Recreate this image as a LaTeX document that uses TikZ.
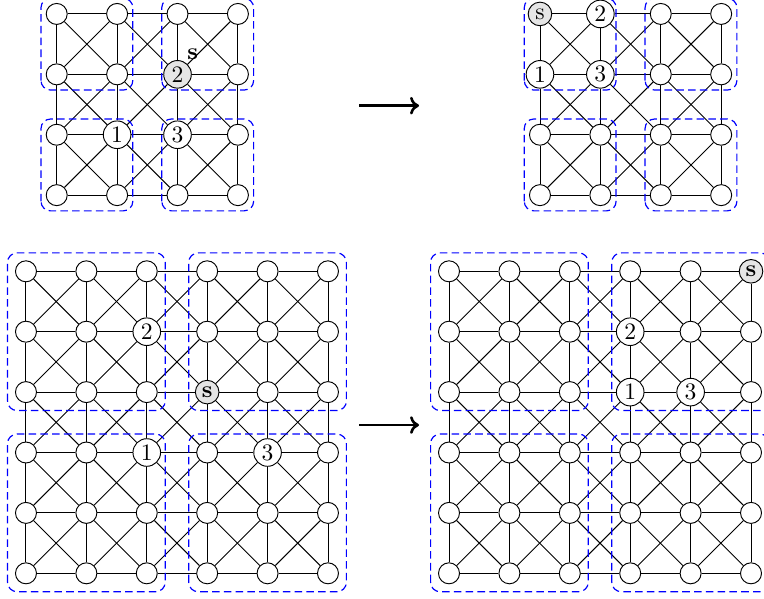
\documentclass[tikz,border=0pt]{standalone}
\usepackage{amsmath}
\usetikzlibrary{positioning}
\usetikzlibrary{arrows.meta}

\begin{document}
\begin{tikzpicture}[x=0.9cm, y=0.9cm,
        vtx/.style={circle, draw=black, fill=white, inner sep=0pt, minimum size=8.9pt},
        num/.style={minimum size=11.7pt, label=center:{#1}},
        src/.style={fill=gray!20},
        link/.style={draw=black},
        part/.style={draw=blue, line width=0.5pt, dash pattern=on 3.2pt off 1.8pt, rounded corners=4pt},
        % numbered vertices, before and after
        A-2-2/.style={src, num=2, label={[font=\bfseries, inner sep=1pt]60:s}},
        A-1-1/.style={num=1},
        A-2-1/.style={num=3},
        B-0-3/.style={src, num=s, minimum size=10pt},
        B-1-3/.style={num=2},
        B-0-2/.style={num=1},
        B-1-2/.style={num=3},
        C-3-3/.style={src, num=\textbf{s}, minimum size=10pt},
        C-2-4/.style={num=2},
        C-2-2/.style={num=1},
        C-4-2/.style={num=3},
        D-5-5/.style={src, num=\textbf{s}, minimum size=10pt},
        D-3-4/.style={num=2},
        D-3-3/.style={num=1},
        D-4-3/.style={num=3}]

        \useasboundingbox (0,0) rectangle (12.649,9.901);

        \foreach \p/\nn/\m/\x/\y/\pad in {A/3/2/0.939/6.67/0.26, B/3/2/8.94/6.67/0.26, C/5/3/0.43/0.409/0.305, D/5/3/7.434/0.409/0.305} {
            % vertices
            \foreach \i in {0,...,\nn}
                \foreach \j in {0,...,\nn}
                    \node[vtx, \p-\i-\j/.try] (\p-\i-\j) at (\x+\i,\y+\j) {};
            % king moves
            \foreach \i in {0,...,\nn}
                \foreach \j in {0,...,\nn} {
                    \pgfmathtruncatemacro\ii{\i+1}
                    \pgfmathtruncatemacro\jj{\j+1}
                    \ifnum\i<\nn\relax \draw[link] (\p-\i-\j) -- (\p-\ii-\j); \fi
                    \ifnum\j<\nn\relax \draw[link] (\p-\i-\j) -- (\p-\i-\jj); \fi
                    \ifnum\i<\nn\relax \ifnum\j<\nn\relax
                        \draw[link] (\p-\i-\j) -- (\p-\ii-\jj);
                        \draw[link] (\p-\ii-\j) -- (\p-\i-\jj);
                    \fi \fi
                }
            % blocks
            \foreach \bx in {0,1}
                \foreach \by in {0,1} {
                    \pgfmathtruncatemacro\xa{\bx*\m}
                    \pgfmathtruncatemacro\ya{\by*\m}
                    \pgfmathtruncatemacro\xb{\bx*\m+\m-1}
                    \pgfmathtruncatemacro\yb{\by*\m+\m-1}
                    \draw[part] ([shift={(-\pad,-\pad)}] \p-\xa-\ya.center) rectangle ([shift={(\pad,\pad)}] \p-\xb-\yb.center);
                }
        }

        \coordinate (t1) at (5.944,8.151);
        \coordinate[right=0.894cm of t1] (t2);
        \coordinate (t3) at (5.944,2.864);
        \coordinate[right=0.894cm of t3] (t4);

        \draw[-{To[length=3.8pt, width=7.5pt]}, line width=1.1pt] (t1) -- (t2);
        \draw[-{To[length=3.8pt, width=7.5pt]}, line width=1.1pt] (t3) -- (t4);
\end{tikzpicture}
\end{document}
